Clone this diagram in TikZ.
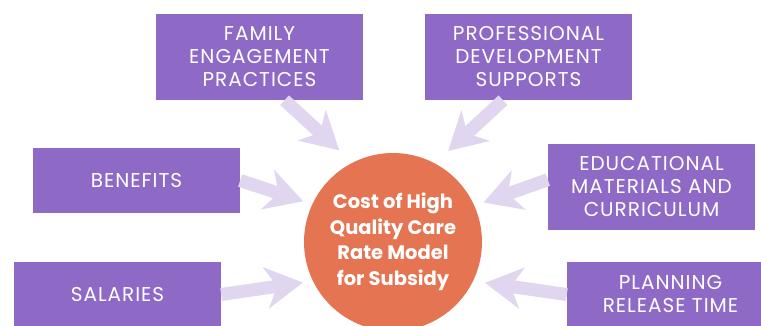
\documentclass[tikz,border=0pt]{standalone}
\usepackage{fontspec}
\setmainfont{Poppins}
\newfontfamily\boxfont{Poppins}[LetterSpace=5]
\usetikzlibrary{arrows.meta}
\definecolor{boxpurple}{RGB}{142,106,198}
\definecolor{coreorange}{RGB}{229,116,82}
\definecolor{arrowlilac}{RGB}{224,214,240}

\begin{document}
\begin{tikzpicture}[x=1pt,y=1pt,yscale=-1,xscale=1,
  costbox/.style={fill=boxpurple, text=white, minimum width=207pt, inner sep=0pt, align=center, font=\boxfont\fontsize{20}{23}\selectfont},
  flow/.style={arrowlilac, line width=13pt, -{Stealth[length=37pt,width=41pt,inset=11pt]}}]
\clip (0,0) rectangle (761,325); %set diagram size to 761 x 325

%Flowchart: Process [family]
\node [costbox, minimum height=86pt] (family) at (259.5,57) {FAMILY\\ENGAGEMENT\\PRACTICES};
%Flowchart: Process [prof]
\node [costbox, minimum height=86pt] (prof) at (528.5,57) {PROFESSIONAL\\DEVELOPMENT\\SUPPORTS};
%Flowchart: Process [benefits]
\node [costbox, minimum height=65pt] (benefits) at (136.5,180.5) {BENEFITS};
%Flowchart: Process [educ]
\node [costbox, minimum height=86pt] (educ) at (651.5,187) {EDUCATIONAL\\MATERIALS AND\\CURRICULUM};
%Flowchart: Process [salaries]
\node [costbox, minimum height=65pt] (salaries) at (117.5,294.5) {SALARIES};
%Flowchart: Process [planning]
\node [costbox, minimum height=65pt] (planning) at (670.5,294.5) {PLANNING\\RELEASE TIME};

%Flowchart: Connector [cost]
\node [circle, fill=coreorange, minimum size=178pt, inner sep=0pt, text=white, align=center, font=\bfseries\fontsize{19.5}{25.5}\selectfont] (cost) at (393,242) {Cost of High\\Quality Care\\Rate Model\\for Subsidy};

%Straight Lines
\draw [flow, shorten >=18pt] ([xshift=25pt]family.south) -- (cost.117.5);
\draw [flow, shorten >=18pt] ([xshift=-25.5pt]prof.south) -- (cost.62.5);
\draw [flow, shorten >=9.5pt] (benefits.east) -- (cost.155.5);
\draw [flow, shorten >=9.5pt] (educ.176.4) -- (cost.24.5);
\draw [flow, shorten >=10pt] (salaries.east) -- (cost.206);
\draw [flow, shorten >=12pt] (planning.west) -- (cost.334);

\end{tikzpicture}
\end{document}
